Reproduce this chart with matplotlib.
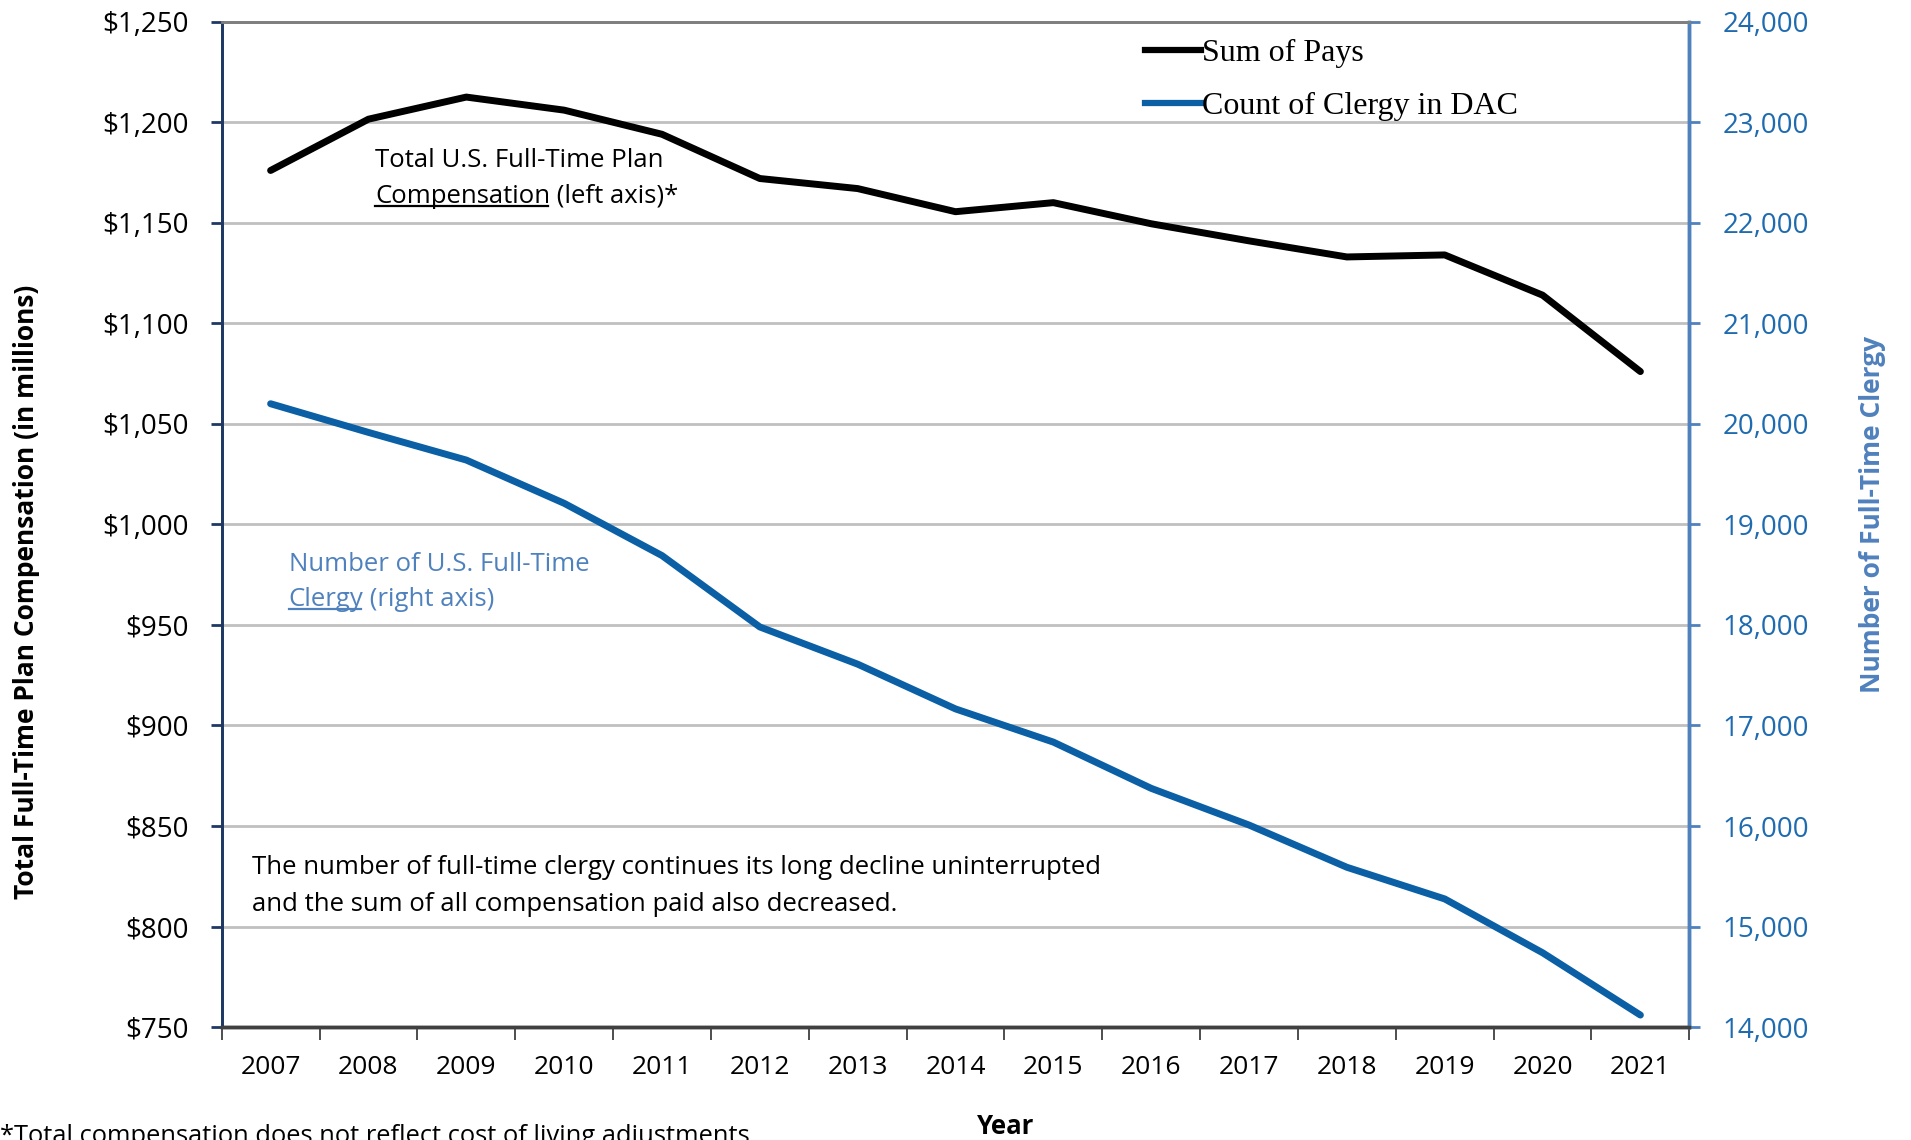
import matplotlib
matplotlib.use("Agg")
import matplotlib.pyplot as plt
from matplotlib.lines import Line2D
from matplotlib.ticker import FuncFormatter, FixedLocator

plt.rcParams['font.family'] = ['Open Sans', 'DejaVu Sans']

# data
years = [2007, 2008, 2009, 2010, 2011, 2012, 2013, 2014, 2015, 2016, 2017, 2018, 2019, 2020, 2021]
sum_of_pays = [1176, 1201.5, 1212.5, 1206, 1194, 1172, 1167, 1155.5, 1160, 1149.5, 1141, 1133, 1134, 1114, 1076]
clergy_count = [20200, 19915, 19640, 19210, 18690, 17980, 17610, 17165, 16835, 16375, 16010, 15590, 15275, 14740, 14120]

left_ticks = list(range(750, 1251, 50))
right_ticks = list(range(14000, 24001, 1000))

blue_line = '#0A5FA5'
blue_light = '#4F81BD'
blue_tick = '#1F6BB0'

fig = plt.figure(figsize=(19.11, 11.40), dpi=100)
ax = fig.add_axes([0.116, 0.099, 0.768, 0.882])
ax2 = ax.twinx()

ax.plot(years, sum_of_pays, color='black', lw=5, solid_capstyle='round', zorder=3, label='Sum of Pays')
ax2.plot(years, clergy_count, color=blue_line, lw=5, solid_capstyle='round', zorder=3, label='Count of Clergy in DAC')

ax.set_xlim(2006.5, 2021.5)
ax.set_ylim(750, 1250)
ax2.set_ylim(14000, 24000)

ax.set_yticks(left_ticks)
ax.yaxis.set_major_formatter(FuncFormatter(lambda v, p: '${:,.0f}'.format(v)))
ax2.set_yticks(right_ticks)
ax2.yaxis.set_major_formatter(FuncFormatter(lambda v, p: '{:,.0f}'.format(v)))

# category labels at the years, tick marks between them
ax.set_xticks(years)
ax.set_xticklabels([str(y) for y in years])
ax.xaxis.set_minor_locator(FixedLocator([y + 0.5 for y in [2006] + years]))
ax.tick_params(axis='x', which='major', length=0, pad=20, labelsize=19)
ax.tick_params(axis='x', which='minor', length=9, width=1.3, color='#404040', direction='out')
ax.tick_params(axis='y', length=8, width=2, color='#1F3864', direction='out', pad=16, labelsize=20)
ax2.tick_params(axis='y', length=8, width=2, color=blue_light, direction='out', pad=16,
                labelsize=20, labelcolor=blue_tick)

ax.grid(axis='y', color='#C0C0C0', lw=2, zorder=0)
ax.set_axisbelow(True)

for a in (ax, ax2):
    a.spines['top'].set_color('#808080')
    a.spines['top'].set_linewidth(2)
    a.spines['bottom'].set_color('#404040')
    a.spines['bottom'].set_linewidth(2.5)
    a.spines['left'].set_color('#1F3864')
    a.spines['left'].set_linewidth(2)
    a.spines['right'].set_color(blue_light)
    a.spines['right'].set_linewidth(2.5)

# axis titles
fig.text(0.014, 0.481, 'Total Full-Time Plan Compensation (in millions)', rotation=90,
         ha='center', va='center', fontsize=19, fontweight='bold')
fig.text(0.980, 0.549, 'Number of Full-Time Clergy', rotation=90, ha='center', va='center',
         fontsize=19, fontweight='bold', color=blue_light)
fig.text(0.526, 0.012, 'Year', ha='center', va='center', fontsize=18.5, fontweight='bold')
fig.text(0.0, 0.003, '*Total compensation does not reflect cost of living adjustments.',
         ha='left', va='center', fontsize=18.4)

# legend
leg = ax.legend(handles=[Line2D([], [], color='black', lw=4.5),
                         Line2D([], [], color=blue_line, lw=4.5)],
                labels=['Sum of Pays', 'Count of Clergy in DAC'],
                loc='upper left', bbox_to_anchor=(0.629, 0.983), frameon=False,
                borderpad=0, borderaxespad=0, handlelength=1.75, handletextpad=0.05,
                labelspacing=0.74, prop={'family': 'Liberation Serif', 'size': 23})

# annotations
note_size = 18.5
t1 = ax.text(0.1046, 0.862, 'Total U.S. Full-Time Plan', transform=ax.transAxes,
             ha='left', va='center', fontsize=note_size)
c1 = ax.text(0.1046, 0.8265, 'Compensation', transform=ax.transAxes,
             ha='left', va='center', fontsize=note_size)
c1b = ax.text(0.2, 0.8265, ' (left axis)*', transform=ax.transAxes,
              ha='left', va='center', fontsize=note_size)

b1 = ax.text(0.0456, 0.4606, 'Number of U.S. Full-Time', transform=ax.transAxes,
             ha='left', va='center', fontsize=note_size, color=blue_light)
b2 = ax.text(0.0456, 0.4254, 'Clergy', transform=ax.transAxes,
             ha='left', va='center', fontsize=note_size, color=blue_light)
b2b = ax.text(0.2, 0.4254, ' (right axis)', transform=ax.transAxes,
              ha='left', va='center', fontsize=note_size, color=blue_light)

ax.text(0.0207, 0.1588, 'The number of full-time clergy continues its long decline uninterrupted',
        transform=ax.transAxes, ha='left', va='center', fontsize=note_size)
ax.text(0.0207, 0.1224, 'and the sum of all compensation paid also decreased.',
        transform=ax.transAxes, ha='left', va='center', fontsize=note_size)

# place the trailing pieces and draw underlines
fig.canvas.draw()
r = fig.canvas.get_renderer()
inv = ax.transAxes.inverted()
for word, rest, col in [(c1, c1b, 'black'), (b2, b2b, blue_light)]:
    bb = word.get_window_extent(r)
    x1 = inv.transform((bb.x1, bb.y0))[0]
    rest.set_x(x1)
    x0f, y0f = fig.transFigure.inverted().transform((bb.x0, bb.y0 + 3))
    x1f, _ = fig.transFigure.inverted().transform((bb.x1 - 2, bb.y0 + 3))
    fig.add_artist(Line2D([x0f, x1f], [y0f, y0f], color=col, lw=1.6))

fig.savefig('out.png', dpi=100)
